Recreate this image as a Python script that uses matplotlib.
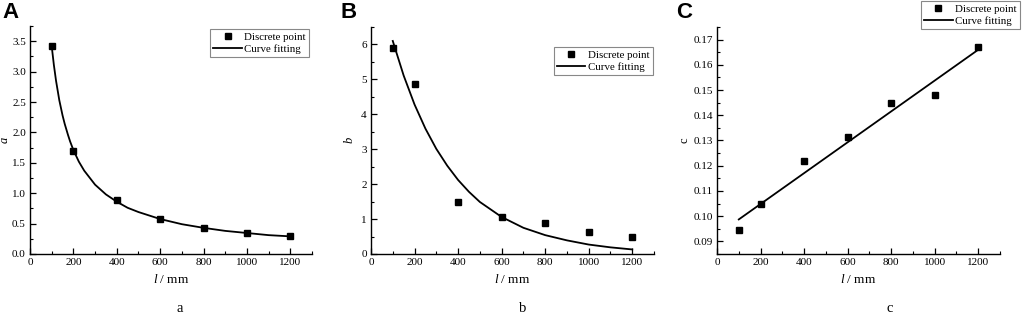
import numpy as np
import matplotlib
matplotlib.use("Agg")
import matplotlib.pyplot as plt

plt.rcParams['font.family'] = ['Liberation Serif', 'DejaVu Serif']
plt.rcParams['mathtext.fontset'] = 'custom'
plt.rcParams['mathtext.rm'] = 'Liberation Serif'
plt.rcParams['mathtext.it'] = 'Liberation Serif:italic'

# discrete points
l_pts = [100, 200, 400, 600, 800, 1000, 1200]
a_pts = [3.42, 1.69, 0.88, 0.57, 0.43, 0.34, 0.29]
b_pts = [5.90, 4.88, 1.50, 1.05, 0.88, 0.64, 0.49]
c_pts = [0.0945, 0.1048, 0.1220, 0.1315, 0.1447, 0.1482, 0.1669]

# fitted curves
l_fit_a = [100, 110, 120, 135, 150, 160, 175, 185, 200, 225, 250, 300, 350, 400, 450, 500, 600,
           700, 800, 900, 1000, 1100, 1200]
a_fit = [3.42, 3.11, 2.85, 2.53, 2.28, 2.14, 1.96, 1.85, 1.71, 1.52, 1.37, 1.14, 0.98, 0.86, 0.76,
         0.69, 0.575, 0.49, 0.43, 0.38, 0.345, 0.31, 0.29]
l_fit_b = [100, 150, 200, 250, 300, 350, 400, 450, 500, 600, 700, 800, 900, 1000, 1100, 1200]
b_fit = [6.10, 5.11, 4.28, 3.59, 3.01, 2.53, 2.12, 1.78, 1.49, 1.06, 0.75, 0.54, 0.39, 0.27, 0.19, 0.13]
l_fit_c = [100, 1200]
c_fit = [0.0987, 0.1660]

fig = plt.figure(figsize=(10.24, 3.26), dpi=100)

panels = [
    ("A", "a", r"$a$", a_pts, l_fit_a, a_fit, (0, 3.75), np.arange(0, 3.51, 0.5), "%.1f", 0.25,
     [0.0293, 0.2209, 0.2754, 0.6993], (0.99, 0.985), 2, 180, -0.068),
    ("B", "b", r"$b$", b_pts, l_fit_b, b_fit, (0, 6.5), np.arange(0, 6.1, 1), "%d", 0.5,
     [0.3623, 0.2209, 0.2764, 0.6963], (0.996, 0.912), 340, 523, -0.053),
    ("C", "c", "c", c_pts, l_fit_c, c_fit, (0.085, 0.175), np.arange(0.09, 0.1701, 0.01), "%.2f", 0.005,
     [0.7002, 0.2209, 0.2764, 0.6963], (1.071, 1.115), 676, 890, -0.092),
]

for (letter, sub, ylab, pts, lf, fit, ylim, yticks, fmt, yminor, pos, legpos,
     letter_x, sub_x, ylab_x) in panels:
    ax = fig.add_axes(pos)
    ax.plot(l_pts, pts, 's', color='black', markersize=4.5, label='Discrete point', zorder=3)
    ax.plot(lf, fit, '-', color='black', linewidth=1.3, label='Curve fitting')
    ax.set_xlim(0, 1300)
    ax.set_ylim(*ylim)
    ax.set_xticks(np.arange(0, 1201, 200))
    ax.set_xticks(np.arange(100, 1301, 200), minor=True)
    ax.set_yticks(yticks)
    ax.set_yticklabels([fmt % v for v in yticks])
    ax.set_yticks(np.arange(ylim[0], ylim[1] + 1e-9, yminor), minor=True)
    for s in ['top', 'right']:
        ax.spines[s].set_visible(False)
    for s in ['left', 'bottom']:
        ax.spines[s].set_linewidth(1.0)
    ax.tick_params(which='major', direction='in', length=4, width=0.9, labelsize=8, pad=3)
    ax.tick_params(which='minor', direction='in', length=2, width=0.8)
    ax.set_xlabel(r"$l$ / mm", fontsize=9.5, labelpad=4)
    ax.set_ylabel(ylab, fontsize=9)
    ax.yaxis.set_label_coords(ylab_x, 0.5)
    leg = ax.legend(loc='upper right', bbox_to_anchor=legpos, fontsize=7.8, frameon=True,
                    fancybox=False, edgecolor='#888888', framealpha=1, handlelength=2.6,
                    borderpad=0.3, labelspacing=0.2, handletextpad=0.25, borderaxespad=0)
    leg.get_frame().set_linewidth(0.8)
    fig.text(letter_x / 1024, 0.995, letter, fontsize=16, fontweight='bold',
             family='Liberation Sans', va='top', ha='left')
    fig.text(sub_x / 1024, 0.043, sub, fontsize=10.5, ha='center', va='baseline')

fig.savefig("out.png", dpi=100)
